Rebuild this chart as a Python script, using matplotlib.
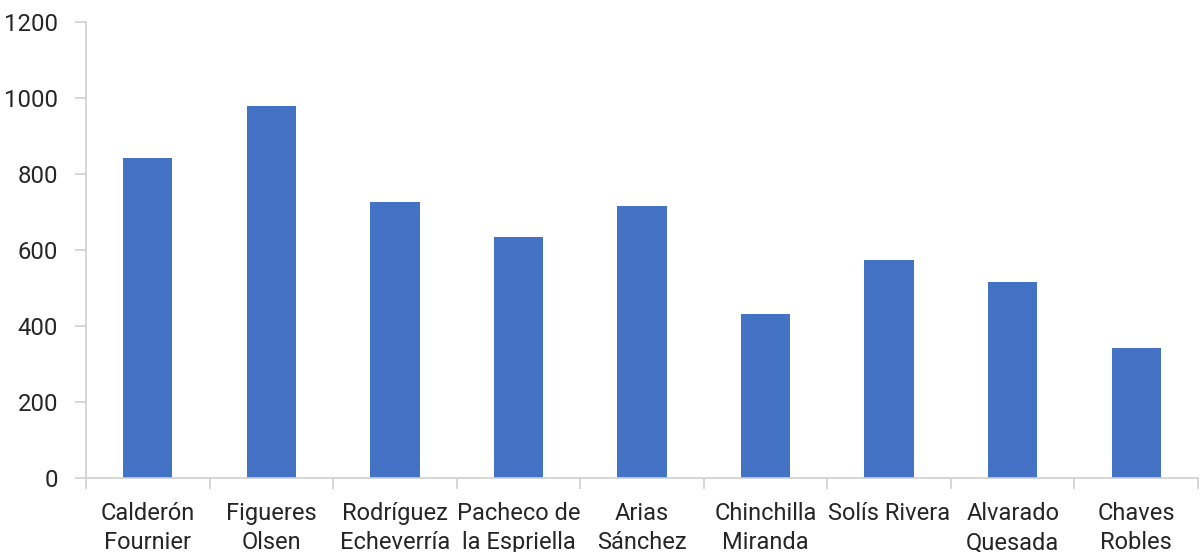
import matplotlib.pyplot as plt
from matplotlib.ticker import FixedLocator

plt.rcParams["font.family"] = ["Roboto", "DejaVu Sans"]

presidents = [
    "Calderón\nFournier",
    "Figueres\nOlsen",
    "Rodríguez\nEcheverría",
    "Pacheco de\nla Espriella",
    "Arias\nSánchez",
    "Chinchilla\nMiranda",
    "Solís Rivera",
    "Alvarado\nQuesada",
    "Chaves\nRobles",
]
values = [842, 979, 726, 634, 716, 432, 574, 516, 342]

fig = plt.figure(figsize=(12.02, 5.52), dpi=100)
ax = fig.add_axes([86 / 1202, 1 - 478 / 552, (1198 - 86) / 1202, (478 - 22) / 552])

x = range(len(values))
ax.bar(x, values, width=0.4, color="#4472C4")

ax.set_xlim(-0.5, len(values) - 0.5)
ax.set_ylim(0, 1200)
ax.set_yticks(range(0, 1201, 200))

ax.set_xticks(list(x))
ax.set_xticklabels(presidents, fontsize=17, color="#262626", linespacing=1.35)
ax.xaxis.set_minor_locator(FixedLocator([i + 0.5 for i in range(-1, len(values))]))
ax.tick_params(axis="x", which="major", length=0, pad=17)
ax.tick_params(axis="x", which="minor", length=8, color="#d0d0d0", width=1.2)
ax.tick_params(axis="y", length=8, color="#d0d0d0", width=1.2, labelsize=17.2,
               labelcolor="#262626", pad=12)

for side in ["top", "right"]:
    ax.spines[side].set_visible(False)
for side in ["left", "bottom"]:
    ax.spines[side].set_color("#d0d0d0")
    ax.spines[side].set_linewidth(1.2)

fig.savefig("out.png", dpi=100)
